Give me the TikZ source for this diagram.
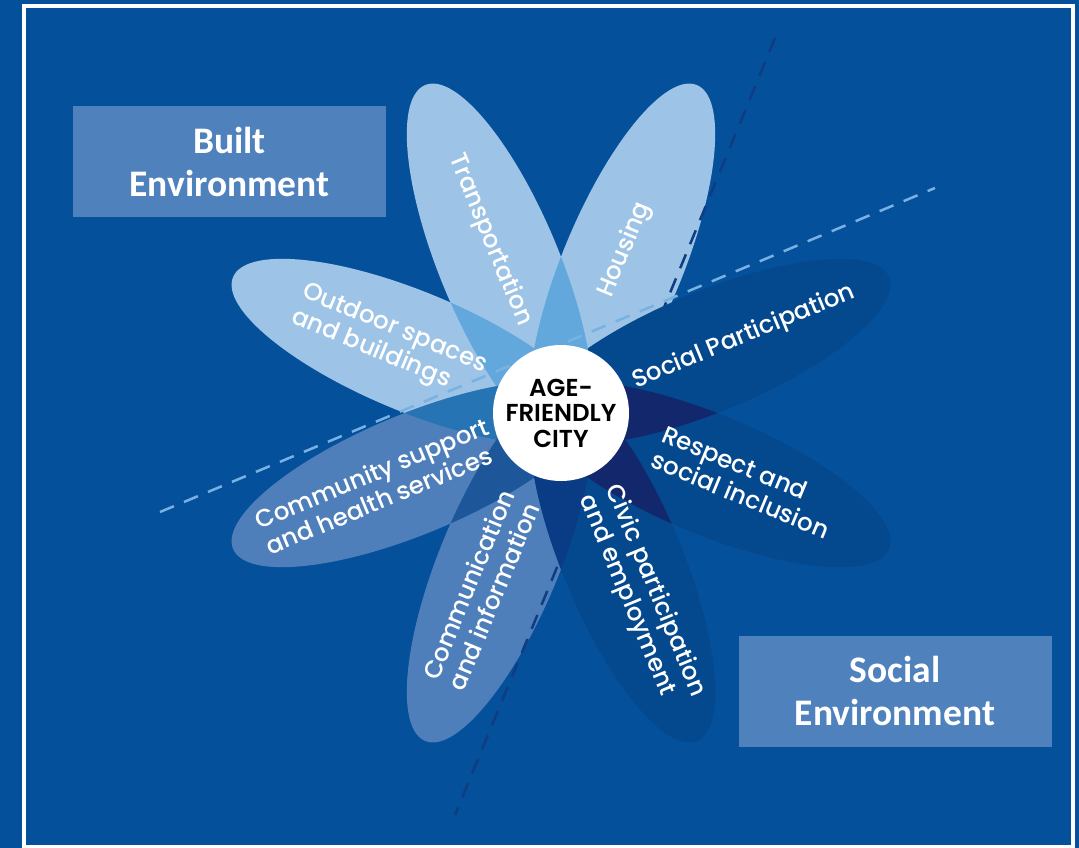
\documentclass[tikz,border=0pt]{standalone}
\usepackage{fontspec}
\setmainfont{Poppins}
\IfFontExistsTF{Poppins Medium}{\newfontfamily\pfont{Poppins Medium}}{\newfontfamily\pfont{Poppins}}
\IfFontExistsTF{Poppins SemiBold}{\newfontfamily\cfont{Poppins SemiBold}}{\newfontfamily\cfont{Poppins}[UprightFont=*-Bold]}
\newfontfamily\boxfont{Carlito}
\definecolor{bg}{HTML}{05509B}
\definecolor{boxc}{HTML}{4F81BD}
\definecolor{lightp}{HTML}{9DC3E6}
\definecolor{ovlight}{HTML}{62A8DD}
\definecolor{medp}{HTML}{4F7FBA}
\definecolor{ovmed}{HTML}{1D5799}
\definecolor{ovlm}{HTML}{2674B3}
\definecolor{darkp}{HTML}{04488E}
\definecolor{ovdark}{HTML}{13286C}
\definecolor{ovmd}{HTML}{0A3C86}
\definecolor{dashlight}{HTML}{78B2E2}
\definecolor{dashdark}{HTML}{0E3D82}
\tikzset{
  petal/.style={rotate around={#1:(561,413)}, x radius=195, y radius=60},
  envbox/.style={fill=boxc, minimum width=313pt, minimum height=111pt, inner sep=0pt,
    text=white, align=center, font=\boxfont\bfseries\fontsize{37.5}{43}\selectfont},
  ptext/.style={text=white, align=left, inner sep=0pt, font=\pfont\fontsize{24.5}{28}\selectfont},
  divider/.style={line width=2.5pt, dash pattern=on 15pt off 11pt},
}
\begin{document}
\begin{tikzpicture}[x=1pt,y=-1pt]
\useasboundingbox (0,0) rectangle (1079,848);
\fill[bg] (0,0) rectangle (1079,848);
\draw[white, line width=3.5pt] (24,6) rectangle (1073,847);

% boxes
\node[envbox] (built) at (229.5,161.5) {Built\\Environment};
\node[envbox] (social) at (895,691) {Social\\Environment};

% dividers (end points)
\coordinate (la) at (160,512);
\coordinate (lb) at (935,188);
\coordinate (da) at (775,38);
\coordinate (db) at (455,815);

% petals
\fill[lightp, petal=112.5] (721,413) ellipse;
\fill[lightp, petal=67.5] (721,413) ellipse;
\fill[lightp, petal=157.5] (721,413) ellipse;
\fill[medp, petal=-112.5] (721,413) ellipse;
\fill[medp, petal=-157.5] (721,413) ellipse;
\draw[divider, dashdark] (da) -- (db);
\fill[darkp, petal=22.5] (721,413) ellipse;
\fill[darkp, petal=-22.5] (721,413) ellipse;
\fill[darkp, petal=-67.5] (721,413) ellipse;

% overlaps
\begin{scope}\clip[petal=112.5] (721,413) ellipse; \fill[ovlight, petal=67.5] (721,413) ellipse;\end{scope}
\begin{scope}\clip[petal=112.5] (721,413) ellipse; \fill[ovlight, petal=157.5] (721,413) ellipse;\end{scope}
\begin{scope}\clip[petal=157.5] (721,413) ellipse; \fill[ovlm, petal=-157.5] (721,413) ellipse;\end{scope}
\begin{scope}\clip[petal=-157.5] (721,413) ellipse; \fill[ovmed, petal=-112.5] (721,413) ellipse;\end{scope}
\begin{scope}\clip[petal=-112.5] (721,413) ellipse; \fill[ovmd, petal=-67.5] (721,413) ellipse;\end{scope}
\begin{scope}\clip[petal=-67.5] (721,413) ellipse; \fill[ovdark, petal=-22.5] (721,413) ellipse;\end{scope}
\begin{scope}\clip[petal=-22.5] (721,413) ellipse; \fill[ovdark, petal=22.5] (721,413) ellipse;\end{scope}

\draw[divider, dashlight] (la) -- (lb);

% centre
\node[circle, fill=white, minimum size=136pt, inner sep=0pt, align=center,
  font=\cfont\fontsize{24.5}{25.5}\selectfont] (city) at (561,413) {AGE-\\FRIENDLY\\CITY};

% petal labels
\node[ptext, rotate=-67.5] (trans) at (490,240) {Transportation};
\node[ptext, rotate=67.5] (hous) at (625,250) {Housing};
\node[ptext, rotate=-22.5] (outd) at (389,342) {Outdoor spaces\\and buildings};
\node[ptext, rotate=22.5] (socp) at (744,337) {Social Participation};
\node[ptext, rotate=-22.5] (resp) at (746,482) {Respect and\\social inclusion};
\node[ptext, rotate=-67.5] (civic) at (642,596) {Civic participation\\and employment};
\node[ptext, rotate=67.5] (comm) at (481,590) {Communication\\and information};
\node[ptext, rotate=22.5] (cmty) at (377,486) {Community support\\and health services};
\end{tikzpicture}
\end{document}
